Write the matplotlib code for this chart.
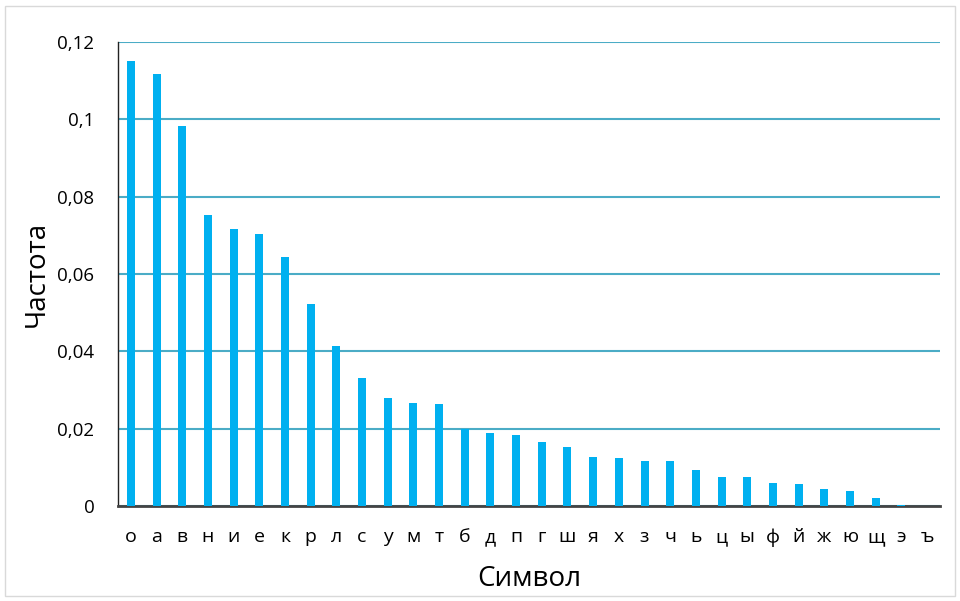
import matplotlib
import numpy as np
from matplotlib import pyplot as plt
from matplotlib.patches import Rectangle

letters = ['о', 'а', 'в', 'н', 'и', 'е', 'к', 'р', 'л', 'с', 'у', 'м', 'т', 'б', 'д', 'п',
           'г', 'ш', 'я', 'х', 'з', 'ч', 'ь', 'ц', 'ы', 'ф', 'й', 'ж', 'ю', 'щ', 'э', 'ъ']
freq = [0.1151, 0.1117, 0.0983, 0.0753, 0.0716, 0.0703, 0.0644, 0.0522, 0.0414, 0.0331,
        0.0279, 0.0266, 0.0265, 0.0200, 0.0190, 0.0185, 0.0165, 0.0153, 0.0127, 0.0123,
        0.0116, 0.0116, 0.0093, 0.0075, 0.0075, 0.0059, 0.0058, 0.0043, 0.0039, 0.0021,
        0.0003, 0.0001]
yticks = [0, 0.02, 0.04, 0.06, 0.08, 0.1, 0.12]
ytick_labels = ['0', '0,02', '0,04', '0,06', '0,08', '0,1', '0,12']

plt.rcParams['font.family'] = ['Open Sans', 'DejaVu Sans']

fig = plt.figure(figsize=(9.6, 6.01), dpi=100)
ax = fig.add_axes([0.123, 0.158, 0.856, 0.772])

x = np.arange(len(letters))
ax.bar(x, freq, width=0.31, color='#00B0F0', zorder=3)
ax.set_xlim(-0.5, len(letters) - 0.5)
ax.set_ylim(0, 0.12)
ax.set_yticks(yticks)
ax.set_yticklabels(ytick_labels, fontsize=13.5)
ax.set_xticks(x)
ax.set_xticklabels(letters, fontsize=14)
ax.tick_params(axis='x', length=0, pad=16)
ax.tick_params(axis='y', length=0, pad=17)
ax.yaxis.grid(True, color='#4BACC6', linewidth=1.5, zorder=0)

for side in ['top', 'right']:
    ax.spines[side].set_visible(False)
ax.spines['left'].set_color('#222222')
ax.spines['left'].set_linewidth(1)
ax.spines['bottom'].set_color('#444444')
ax.spines['bottom'].set_linewidth(2)

ax.set_xlabel('Символ', fontsize=20, labelpad=13)
ax.set_ylabel('Частота', fontsize=20, labelpad=5)

fig.patches.append(Rectangle((0.005, 0.008), 0.99, 0.982, transform=fig.transFigure,
                             fill=False, edgecolor='#d9d9d9', linewidth=1))

plt.savefig('out.png', dpi=100)
